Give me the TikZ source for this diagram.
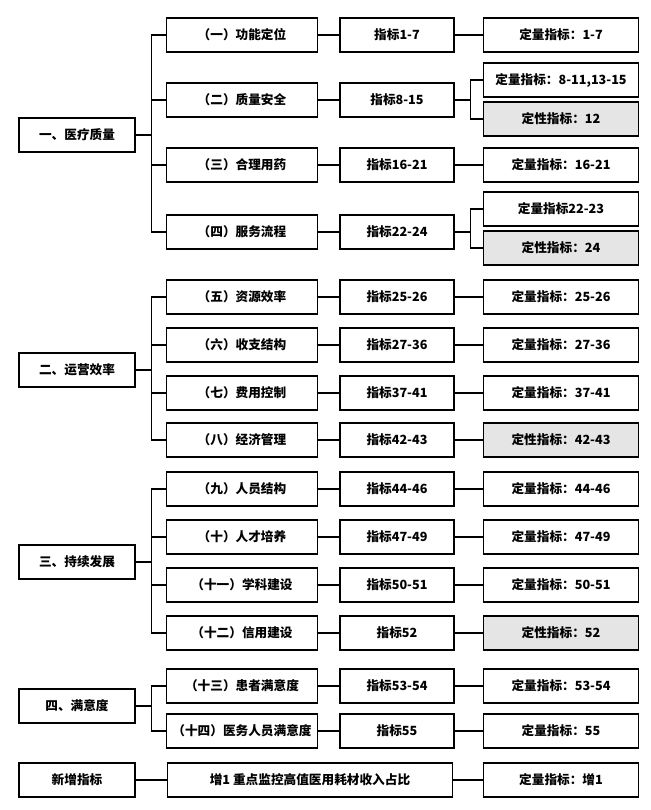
\documentclass[tikz,border=0pt]{standalone}
\usepackage{fontspec}
\setmainfont{Noto Sans CJK SC}
\tikzset{
    box/.style={draw, thick, minimum height=0.68cm, inner sep=0pt, font=\bfseries\fontsize{7.2}{8}\selectfont},
    cat/.style={box, minimum width=2.32cm},
    sub/.style={box, minimum width=3.02cm},
    idx/.style={box, minimum width=2.28cm},
    res/.style={box, minimum width=3.1cm},
    qual/.style={res, fill=gray!20},
    link/.style={thick}
}
\begin{document}
\begin{tikzpicture}[x=0.02cm, y=-0.02cm]
    \useasboundingbox (0,0) rectangle (650,810);

    % 一、医疗质量
    \node[cat] (c1) at (77,135) {一、医疗质量};
    \node[sub] (s1) at (242,35) {（一）功能定位};
    \node[sub] (s2) at (242,100) {（二）质量安全};
    \node[sub] (s3) at (242,165) {（三）合理用药};
    \node[sub] (s4) at (242,232) {（四）服务流程};
    \node[idx] (i1) at (397,35) {指标1-7};
    \node[idx] (i2) at (397,100) {指标8-15};
    \node[idx] (i3) at (397,165) {指标16-21};
    \node[idx] (i4) at (397,232) {指标22-24};
    \node[res] (r1) at (561,35) {定量指标：1-7};
    \node[res] (r2a) at (561,80) {定量指标：8-11,13-15};
    \node[qual] (r2b) at (561,119) {定性指标：12};
    \node[res] (r3) at (561,165) {定量指标：16-21};
    \node[res] (r4a) at (561,209) {定量指标22-23};
    \node[qual] (r4b) at (561,248) {定性指标：24};

    % 二、运营效率
    \node[cat] (c2) at (77,370) {二、运营效率};
    \node[sub] (s5) at (242,297) {（五）资源效率};
    \node[sub] (s6) at (242,345) {（六）收支结构};
    \node[sub] (s7) at (242,393) {（七）费用控制};
    \node[sub] (s8) at (242,440) {（八）经济管理};
    \node[idx] (i5) at (397,297) {指标25-26};
    \node[idx] (i6) at (397,345) {指标27-36};
    \node[idx] (i7) at (397,393) {指标37-41};
    \node[idx] (i8) at (397,440) {指标42-43};
    \node[res] (r5) at (561,297) {定量指标：25-26};
    \node[res] (r6) at (561,345) {定量指标：27-36};
    \node[res] (r7) at (561,393) {定量指标：37-41};
    \node[qual] (r8) at (561,440) {定性指标：42-43};

    % 三、持续发展
    \node[cat] (c3) at (77,562) {三、持续发展};
    \node[sub] (s9) at (242,489) {（九）人员结构};
    \node[sub] (s10) at (242,537) {（十）人才培养};
    \node[sub] (s11) at (242,585) {（十一）学科建设};
    \node[sub] (s12) at (242,633) {（十二）信用建设};
    \node[idx] (i9) at (397,489) {指标44-46};
    \node[idx] (i10) at (397,537) {指标47-49};
    \node[idx] (i11) at (397,585) {指标50-51};
    \node[idx] (i12) at (397,633) {指标52};
    \node[res] (r9) at (561,489) {定量指标：44-46};
    \node[res] (r10) at (561,537) {定量指标：47-49};
    \node[res] (r11) at (561,585) {定量指标：50-51};
    \node[qual] (r12) at (561,633) {定性指标：52};

    % 四、满意度
    \node[cat] (c4) at (77,706) {四、满意度};
    \node[sub] (s13) at (242,686) {（十三）患者满意度};
    \node[sub] (s14) at (242,731) {（十四）医务人员满意度};
    \node[idx] (i13) at (397,686) {指标53-54};
    \node[idx] (i14) at (397,731) {指标55};
    \node[res] (r13) at (561,686) {定量指标：53-54};
    \node[res] (r14) at (561,731) {定量指标：55};

    % 新增指标
    \node[cat] (c5) at (77,780) {新增指标};
    \node[box, minimum width=5.7cm] (n1) at (310,780) {增1 重点监控高值医用耗材收入占比};
    \node[res] (n2) at (561,780) {定量指标：增1};

    % 树形连线
    \foreach \c/\s in {c1/s1, c1/s2, c1/s3, c1/s4, c2/s5, c2/s6, c2/s7, c2/s8,
                      c3/s9, c3/s10, c3/s11, c3/s12, c4/s13, c4/s14}
        \draw[link] (\c.east) -- ++(16,0) |- (\s.west);
    \foreach \a/\b in {s1/i1, s2/i2, s3/i3, s4/i4, s5/i5, s6/i6, s7/i7, s8/i8,
                      s9/i9, s10/i10, s11/i11, s12/i12, s13/i13, s14/i14,
                      i1/r1, i3/r3, i5/r5, i6/r6, i7/r7, i8/r8, i9/r9,
                      i10/r10, i11/r11, i12/r12, i13/r13, i14/r14, c5/n1, n1/n2}
        \draw[link] (\a) -- (\b);
    \foreach \i/\r in {i2/r2a, i2/r2b, i4/r4a, i4/r4b}
        \draw[link] (\i.east) -- ++(16,0) |- (\r.west);
\end{tikzpicture}
\end{document}
